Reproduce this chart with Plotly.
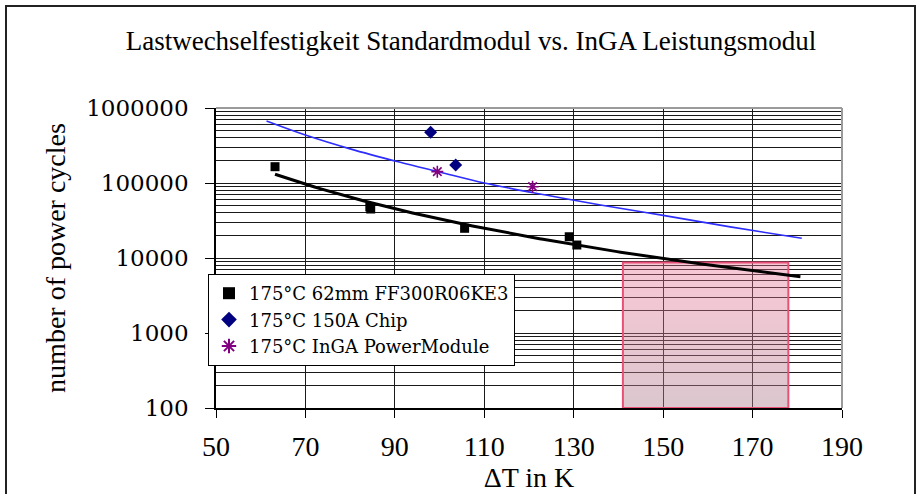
import numpy as np
import plotly.graph_objects as go

# Power-cycling results at 175 °C (ΔT in K, cycles to failure)
ff300_dT = [63.2, 84.4, 84.6, 105.6, 129.0, 130.7]
ff300_N = [165000, 48000, 45000, 24900, 19200, 14900]

chip150_dT = [98.0, 103.6]
chip150_N = [474000, 174000]

inga_dT = [99.5, 120.8]
inga_N = [141700, 89300]

# Projected lifetime curve for the InGA module
inga_curve_dT = [61.3, 70, 80, 91, 100, 110, 121, 127, 136, 150, 165, 181]
inga_curve_N = [671000, 436000, 285000, 190000, 140000, 100000, 74000, 63700, 50900, 37000, 26000, 18300]

# Target operating window
target_dT = [141, 178]
target_N = [100, 8700]

series_names = ["175°C 62mm FF300R06KE3", "175°C 150A Chip", "175°C InGA PowerModule"]
y_tickvals = [100, 1000, 10000, 100000, 1000000]
y_ticktext = ["100", "1000", "10000", "100000", "1000000"]
x_tickvals = [50, 70, 90, 110, 130, 150, 170, 190]

TREND_FORWARD = 50  # forward forecast of the power trendline, K

SERIF = "Liberation Serif"
WIDE_SERIF = "DejaVu Serif"

# power-law trendline fitted to the FF300R06KE3 data
b, a = np.polyfit(np.log(ff300_dT), np.log(ff300_N), 1)
trend_x = np.linspace(min(ff300_dT), max(ff300_dT) + TREND_FORWARD, 150)
trend_y = np.exp(a) * trend_x ** b

# minor log grid: 2..9 of every decade
minor_vals = [m * 10 ** k for k in range(2, 6) for m in range(2, 10)]

fig = go.Figure()

# target window as a filled rectangle
bx = [target_dT[0], target_dT[1], target_dT[1], target_dT[0], target_dT[0]]
by = [target_N[0], target_N[0], target_N[1], target_N[1], target_N[0]]
fig.add_trace(go.Scatter(
    x=bx, y=by, mode="lines", fill="toself",
    fillgradient=dict(type="vertical",
                      colorscale=[[0, "rgba(175,130,145,0.45)"], [1, "rgba(235,110,145,0.38)"]]),
    line=dict(color="rgb(232,80,118)", width=2),
    showlegend=False, hoverinfo="skip"))

fig.add_trace(go.Scatter(
    x=trend_x, y=trend_y, mode="lines",
    line=dict(color="black", width=3), showlegend=False, hoverinfo="skip"))

fig.add_trace(go.Scatter(
    x=inga_curve_dT, y=inga_curve_N, mode="lines", line_shape="spline",
    line=dict(color="rgb(45,45,255)", width=1.6), showlegend=False, hoverinfo="skip"))

fig.add_trace(go.Scatter(
    x=ff300_dT, y=ff300_N, mode="markers", name=series_names[0],
    marker=dict(symbol="square", size=9, color="black")))
fig.add_trace(go.Scatter(
    x=chip150_dT, y=chip150_N, mode="markers", name=series_names[1],
    marker=dict(symbol="diamond", size=10, color="#000080")))
fig.add_trace(go.Scatter(
    x=inga_dT, y=inga_N, mode="markers", name=series_names[2],
    marker=dict(symbol="asterisk", size=10, color="#800080",
                line=dict(color="#800080", width=1.6))))

L, R, T, B = 216, 75, 108, 86
W, H = 917, 494
pw, ph = W - L - R, H - T - B

fig.update_layout(
    width=W, height=H,
    margin=dict(l=L, r=R, t=T, b=B, autoexpand=False),
    paper_bgcolor="white", plot_bgcolor="white",
    title=dict(text="Lastwechselfestigkeit Standardmodul vs. InGA Leistungsmodul",
               font=dict(family=SERIF, size=27, color="black"),
               x=471 / W, xanchor="center", xref="container",
               y=1 - 41 / H, yanchor="middle", yref="container"),
    showlegend=True,
    legend=dict(x=(208 - L) / pw, xanchor="left", y=(H - B - 274) / ph, yanchor="top",
                bgcolor="white", bordercolor="black", borderwidth=1,
                font=dict(family=WIDE_SERIF, size=18, color="black"),
                itemsizing="constant"),
)

fig.update_xaxes(
    range=[50, 190], tickvals=x_tickvals, automargin=False,
    showgrid=True, gridcolor="#1a1a1a", gridwidth=1,
    showline=True, linecolor="black", linewidth=1.5, zeroline=False,
    ticks="outside", ticklen=8, tickcolor="black", tickwidth=1,
    ticklabelstandoff=5,
    tickfont=dict(family=SERIF, size=28, color="black"),
    title=dict(text="ΔT in K", font=dict(family=SERIF, size=28, color="black"), standoff=0),
)

fig.update_yaxes(
    type="log", range=[2, 6], automargin=False,
    tickvals=y_tickvals, ticktext=y_ticktext,
    showgrid=True, gridcolor="#1a1a1a", gridwidth=1,
    minor=dict(tickvals=minor_vals, showgrid=True, gridcolor="#1a1a1a", gridwidth=1, ticks=""),
    showline=True, linecolor="black", linewidth=1.5, zeroline=False,
    ticks="outside", ticklen=9, tickcolor="black", tickwidth=1,
    ticklabelstandoff=12,
    tickfont=dict(family=WIDE_SERIF, size=23, color="black"),
    title=dict(text="number of power cycles", font=dict(family=SERIF, size=28, color="black"),
               standoff=12),
)

# gray top and right plot edges, outer chart frame
fig.add_shape(type="line", xref="paper", yref="paper", x0=0, x1=1, y0=1, y1=1,
              line=dict(color="#9a9a9a", width=2), layer="above")
fig.add_shape(type="line", xref="paper", yref="paper", x0=1, x1=1, y0=0, y1=1,
              line=dict(color="#9a9a9a", width=2), layer="above")
fig.add_shape(type="rect", xref="paper", yref="paper",
              x0=(6 - L) / pw, x1=(915 - L) / pw,
              y0=-(B + 20) / ph, y1=(H - B - 6) / ph,
              line=dict(color="#222222", width=2), layer="above")

fig.write_html("out.html")
